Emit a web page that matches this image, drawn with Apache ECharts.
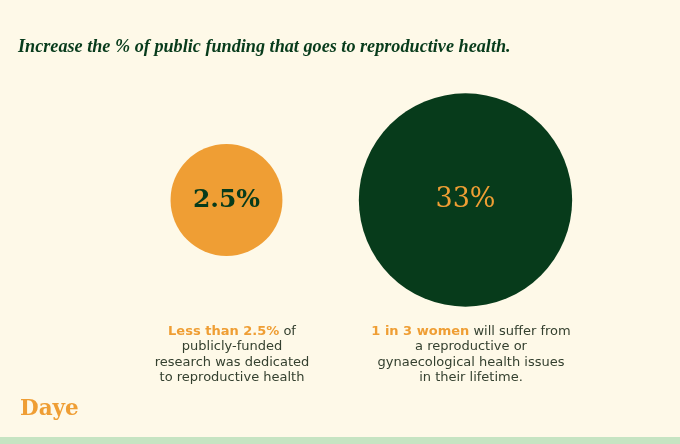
<!DOCTYPE html>
<html>
<head>
<meta charset="utf-8">
<script src="https://cdn.jsdelivr.net/npm/echarts@6/dist/echarts.min.js"></script>
<style>
html,body{margin:0;padding:0;background:#fef9e8;}
#chart{width:680px;height:444px;}
</style>
</head>
<body>
<div id="chart"></div>
<script>
// data
var categories = ['research', 'women'];
var values = [2.5, 33];
var valueLabels = ['2.5%', '33%'];
var captionHighlights = ['Less than 2.5%', '1 in 3 women'];
var captionTexts = [
	[' of', 'publicly-funded', 'research was dedicated', 'to reproductive health'],
	[' will suffer from', 'a reproductive or', 'gynaecological health issues', 'in their lifetime.']
];

var orange = '#ef9e34';
var green = '#073b1b';
var grey = '#34402f';

function caption(i) {
	var t = captionTexts[i];
	return '{hl|' + captionHighlights[i] + '}{tx|' + t[0] + '}\n{tx|' + t.slice(1).join('}\n{tx|') + '}';
}
var capRich = {
	hl: {color: orange, fontFamily: 'DejaVu Sans', fontWeight: 'bold', fontSize: 13, lineHeight: 15.3},
	tx: {color: grey, fontFamily: 'DejaVu Sans', fontWeight: 'normal', fontSize: 13, lineHeight: 15.3}
};

var myChart = echarts.init(document.getElementById('chart'));
var option = {
	backgroundColor: '#fef9e8',
	title: [
		{
			text: 'Increase the % of public funding that goes to reproductive health.',
			left: 13, top: 33,
			textStyle: {color: green, fontFamily: 'Liberation Serif', fontStyle: 'italic', fontWeight: 'bold', fontSize: 18.2}
		},
		{
			text: caption(0), left: 227, top: 319, textAlign: 'center',
			textStyle: {rich: capRich}
		},
		{
			text: caption(1), left: 466, top: 319, textAlign: 'center',
			textStyle: {rich: capRich}
		},
		{
			text: 'Daye', left: 15, top: 393,
			textStyle: {color: orange, fontFamily: 'DejaVu Serif', fontWeight: 'bold', fontSize: 21.5}
		}
	],
	grid: {left: 107, right: 95, top: 99, bottom: 143},
	xAxis: {type: 'category', data: categories, show: false},
	yAxis: {type: 'value', min: -1, max: 1, show: false},
	series: [
		{
			type: 'scatter',
			symbol: 'circle',
			// circle diameter grows with value^0.25, as in the original
			symbolSize: function (val) { return 89 * Math.pow(val[2], 0.25); },
			silent: true,
			data: values.map(function (v, i) {
				return {
					value: [categories[i], 0, v],
					itemStyle: {color: i === 0 ? orange : green, opacity: 1},
					label: {
						show: true, position: 'inside',
						formatter: valueLabels[i],
						color: i === 0 ? green : orange,
						fontFamily: 'DejaVu Serif',
						fontWeight: i === 0 ? 'bold' : 'normal',
						fontSize: i === 0 ? 25 : 27
					}
				};
			})
		}
	],
	graphic: [
		{type: 'rect', shape: {x: 0, y: 437, width: 680, height: 7}, style: {fill: '#c6e4c2'}, silent: true}
	]
};
myChart.setOption(option);
</script>
</body>
</html>
